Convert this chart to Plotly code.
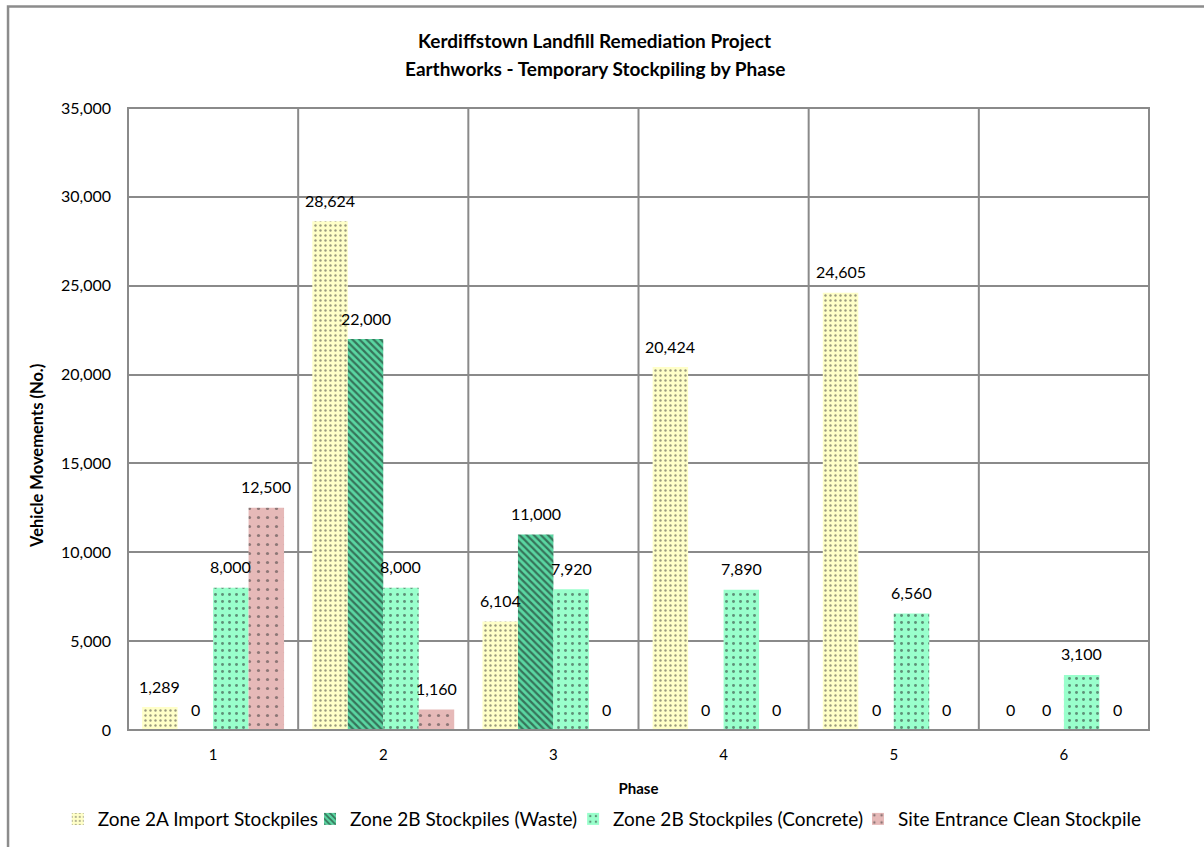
import plotly.graph_objects as go

# Phases and series values (vehicle movements)
phases = [1, 2, 3, 4, 5, 6]
series_names = [
    "Zone 2A Import Stockpiles",
    "Zone 2B Stockpiles (Waste)",
    "Zone 2B Stockpiles (Concrete)",
    "Site Entrance Clean Stockpile",
]
zone2a_import = [1289, 28624, 6104, 20424, 24605, 0]
zone2b_waste = [0, 22000, 11000, 0, 0, 0]
zone2b_concrete = [8000, 8000, 7920, 7890, 6560, 3100]
site_entrance = [12500, 1160, 0, 0, 0, 0]
y_ticks = [0, 5000, 10000, 15000, 20000, 25000, 30000, 35000]
title_lines = [
    "Kerdiffstown Landfill Remediation Project",
    "Earthworks - Temporary Stockpiling by Phase",
]

series_values = [zone2a_import, zone2b_waste, zone2b_concrete, site_entrance]

# Fill styles: (background colour, pattern shape, pattern colour, size, solidity)
styles = [
    ("#FFFFC8", ".", "#333333", 5, 0.18),
    ("#5AD6A2", "\\", "#111111", 5, 0.45),
    ("#99FFCC", ".", "#222222", 7, 0.14),
    ("#E6B9B8", ".", "#333333", 9, 0.10),
]

FONT = "Lato, 'Open Sans', Arial, sans-serif"
BAR_W = 0.2085

# One single-entry legend per series, laid out along the bottom of the chart
legend_ids = ["legend", "legend2", "legend3", "legend4"]
legend_x = [0.048, 0.2575, 0.476, 0.7126]

fig = go.Figure()
for name, vals, (bg, shape, fg, size, sol), lid in zip(series_names, series_values, styles, legend_ids):
    fig.add_trace(go.Bar(
        x=phases,
        y=vals,
        name=name,
        legend=lid,
        marker=dict(
            color=bg,
            line=dict(width=0),
            pattern=dict(shape=shape, bgcolor=bg, fgcolor=fg, size=size,
                         solidity=sol, fillmode="overlay"),
        ),
    ))

# Value labels above each bar
annotations = []
for i, vals in enumerate(series_values):
    for p, v in zip(phases, vals):
        annotations.append(dict(
            x=p + (i - 1.5) * BAR_W, y=v, xref="x", yref="y",
            text=f"{v:,}", showarrow=False, yanchor="middle", yshift=21,
            font=dict(family=FONT, size=16, color="#000000"),
        ))

# Two-line chart title
for line, ty in zip(title_lines, [1.1093, 1.0643]):
    annotations.append(dict(
        x=0.457, y=ty, xref="paper", yref="paper", yanchor="middle", xanchor="center",
        text=f"<b>{line}</b>", showarrow=False,
        font=dict(family=FONT, size=19, color="#000000"),
    ))

# Y-axis title
annotations.append(dict(
    x=-0.0885, y=0.44, xref="paper", yref="paper", xanchor="center", yanchor="middle",
    text="<b>Vehicle Movements (No.)</b>", textangle=-90, showarrow=False,
    font=dict(family=FONT, size=16.5, color="#000000"),
))

grid_col = "#8A8A8A"
shapes = []
# Vertical separators between phases
for b in [1.5, 2.5, 3.5, 4.5, 5.5]:
    shapes.append(dict(type="line", xref="x", yref="paper", x0=b, x1=b, y0=0, y1=1,
                       line=dict(color=grid_col, width=2), layer="below"))
# Plot frame
shapes.append(dict(type="rect", xref="paper", yref="paper", x0=0, x1=1, y0=0, y1=1,
                   line=dict(color=grid_col, width=2), layer="above"))
# Chart border (left and top edges)
shapes.append(dict(type="path", xref="paper", yref="paper",
                   path="M -0.1175,-0.3 L -0.1175,1.163 L 1.2,1.163",
                   line=dict(color="#8C8C8C", width=2.5)))

legend_layout = {}
for lid, lx in zip(legend_ids, legend_x):
    legend_layout[lid] = dict(
        orientation="h", xref="container", yref="container",
        x=lx, xanchor="left", y=0.033, yanchor="middle",
        font=dict(family=FONT, size=19, color="#000000"),
        itemwidth=30, bgcolor="rgba(0,0,0,0)",
    )

fig.update_layout(
    width=1204, height=847,
    margin=dict(l=128, r=55, t=108, b=117, autoexpand=False),
    paper_bgcolor="white", plot_bgcolor="white",
    barmode="group", bargap=0.166, bargroupgap=0,
    font=dict(family=FONT, size=15, color="#000000"),
    showlegend=True,
    annotations=annotations,
    shapes=shapes,
    xaxis=dict(
        range=[0.5, 6.5], tickvals=phases, ticktext=[str(p) for p in phases],
        showgrid=False, zeroline=False, showline=False, ticks="",
        tickfont=dict(family=FONT, size=15), ticklabelstandoff=14,
        title=dict(text="<b>Phase</b>", font=dict(family=FONT, size=15), standoff=21),
    ),
    yaxis=dict(
        range=[0, 35000], tickvals=y_ticks, tickformat=",", showgrid=True,
        gridcolor=grid_col, gridwidth=2, zeroline=False, showline=False, ticks="",
        tickfont=dict(family=FONT, size=16), ticklabelstandoff=16,
    ),
    **legend_layout,
)

fig.write_html("out.html")
